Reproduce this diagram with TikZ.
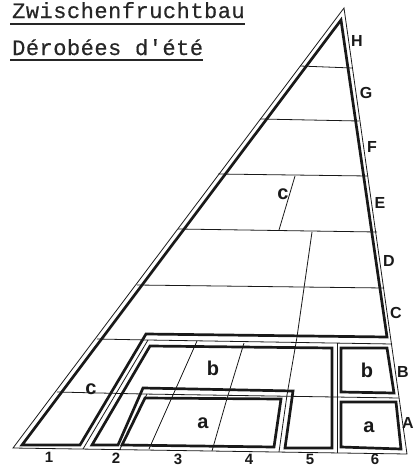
\documentclass[tikz,border=0pt]{standalone}
\usepackage{fontspec}
\setsansfont{Liberation Sans}
\newfontfamily\titlefont[LetterSpace=2.3,FakeBold=0.4]{Liberation Mono}
\tikzset{
  thickpath/.style={line width=2.7pt,line join=miter,draw=black!90},
  thinline/.style={line width=0.8pt,draw=black!90},
  titletext/.style={inner sep=0pt,anchor=base west,font=\titlefont\fontsize{22}{22}\selectfont,text=black!85},
  rule/.style={line width=1.1pt,draw=black!85},
  letter/.style={inner sep=0pt,font=\sffamily\bfseries\fontsize{16}{16}\selectfont,text=black!90},
  cell/.style={inner sep=0pt,font=\sffamily\bfseries\fontsize{20}{20}\selectfont,text=black!90},
  num/.style={inner sep=0pt,font=\sffamily\bfseries\fontsize{15}{15}\selectfont,text=black!90}
}
\begin{document}
\begin{tikzpicture}[x=1pt,y=-1pt]
\useasboundingbox (0,0) rectangle (414,466);
% outer triangle
\coordinate (T) at (344,8);
\coordinate (L) at (13,448);
\coordinate (R) at (407,454);
\draw[thinline,line join=miter] (T) -- (L) -- (R) -- cycle;
% horizontal bands
\draw[thinline] (300,66) -- (352,68);
\draw[thinline] (260,119) -- (359,121);
\draw[thinline] (218,174) -- (368,176);
\draw[thinline] (178,229) -- (377,232);
\draw[thinline] (137,285) -- (384,288);
\draw[thinline] (97,339) -- (148,340) -- (392,344);
\draw[thinline] (57,392) -- (143,394) -- (399,398);
% oblique divisions
\draw[thinline] (295,176) -- (279,230);
\draw[thinline] (312,232) -- (297,337) -- (287,395);
\draw[thinline] (197,341) -- (149,449);
\draw[thinline] (244,343) -- (226,402) -- (212,451);
\draw[thinline] (83,449) -- (148,340);
\draw[thinline] (120,449) -- (147,394);
\draw[thinline] (279,452) -- (287,395);
\draw[thinline] (337,343) -- (337,453);
% thick plots
\draw[thickpath] (341,20) -- (22,445) -- (80,445) -- (146,334) -- (387,337) -- cycle;
\draw[thickpath] (92,445) -- (150,346) -- (332,348) -- (332,448) -- (285,448) -- (293,391) -- (143,388) -- (118,445) -- cycle;
\draw[thickpath] (122,445) -- (145,398) -- (281,399) -- (274,447) -- cycle;
\draw[thickpath] (341,348) -- (387,348) -- (394,393) -- (341,392) -- cycle;
\draw[thickpath] (341,402) -- (396,402) -- (401,449) -- (341,447) -- cycle;
% title
\node[titletext] (t1) at (12,18) {Zwischenfruchtbau};
\node[titletext] (t2) at (12,55) {Dérobées d'été};
\draw[rule] (10,24) -- (245,24);
\draw[rule] (10,60) -- (203,60);
% side letters
\node[letter] (lH) at (357,41) {H};
\node[letter] (lG) at (366,93) {G};
\node[letter] (lF) at (372,147) {F};
\node[letter] (lE) at (380,203) {E};
\node[letter] (lD) at (389,261) {D};
\node[letter] (lC) at (396,313) {C};
\node[letter] (lB) at (403,372) {B};
\node[letter] (lA) at (408,423) {A};
% inner letters
\node[cell] (c1) at (283,194) {c};
\node[cell] (c2) at (91,389) {c};
\node[cell] (b1) at (213,368) {b};
\node[cell] (a1) at (203,423) {a};
\node[cell] (b2) at (367,370) {b};
\node[cell] (a2) at (369,427) {a};
% numbers
\node[num] (n1) at (49,457) {1};
\node[num] (n2) at (116,458) {2};
\node[num] (n3) at (178,459) {3};
\node[num] (n4) at (249,459) {4};
\node[num] (n5) at (310,459) {5};
\node[num] (n6) at (375,459) {6};
\end{tikzpicture}
\end{document}
